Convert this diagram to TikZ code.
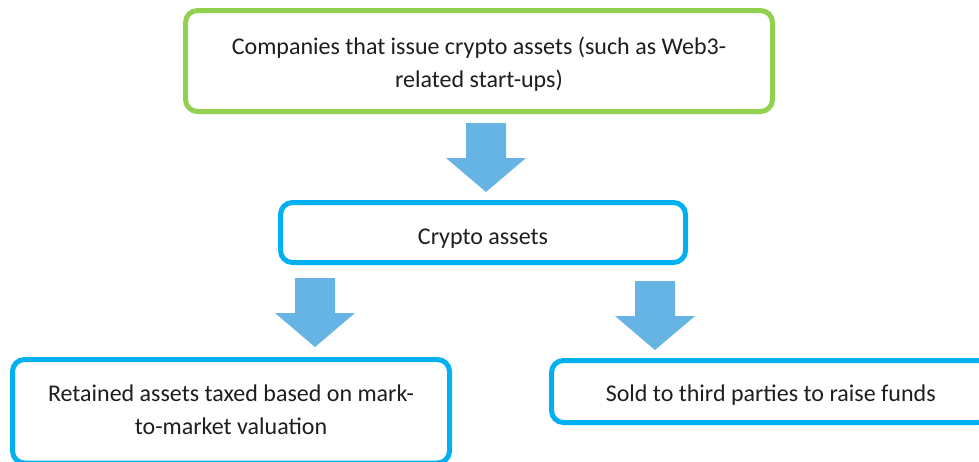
\documentclass[tikz,border=0pt]{standalone}
\usepackage{fontspec}
\setmainfont{Carlito}
\definecolor{framegreen}{RGB}{146,208,80}
\definecolor{frameblue}{RGB}{0,176,240}
\definecolor{arrowblue}{RGB}{101,180,228}
\definecolor{labelgray}{RGB}{30,30,30}
\begin{document}
\begin{tikzpicture}[x=0.5pt,y=-0.5pt,
  box/.style={draw=frameblue, line width=2.5pt, rounded corners=6pt, fill=white,
    inner sep=0pt},
  greenbox/.style={box, draw=framegreen},
  lbl/.style={align=center, text=labelgray, inner sep=0pt,
    font=\fontsize{12}{16.5}\selectfont},
  blockarrow/.pic={\fill[arrowblue] (-20,0) -- (20,0) -- (20,35) -- (40,35)
    -- (0,69) -- (-40,35) -- (-20,35) -- cycle;}]
\useasboundingbox (0,0) rectangle (979,461);
\clip (0,0) rectangle (979,461);

% boxes
\node[greenbox, minimum width=293.5pt, minimum height=50.5pt] (issuer) at (479,61) {};
\node[box, minimum width=202.5pt, minimum height=30pt] (crypto) at (483,232.5) {};
\node[box, minimum width=218.5pt, minimum height=51.75pt] (retained) at (231,411.25) {};
\node[box, minimum width=219.25pt, minimum height=31pt] (sold) at (770.75,391.5) {};

% box texts
\node[lbl] (issuertext) at ([yshift=-1.5pt]issuer.center)
  {Companies that issue crypto assets (such as Web3-\\related start-ups)};
\node[lbl] (cryptotext) at ([yshift=-3pt]crypto.center) {Crypto assets};
\node[lbl] (retainedtext) at ([yshift=1pt]retained.center)
  {Retained assets taxed based on mark-\\to-market valuation};
\node[lbl] (soldtext) at ([yshift=-2pt]sold.center) {Sold to third parties to raise funds};

% block arrows between the boxes
\coordinate (a1) at (486,123);
\coordinate (a2) at (315,278);
\coordinate (a3) at (655,281);
\pic at (a1) {blockarrow};
\pic at (a2) {blockarrow};
\pic at (a3) {blockarrow};
\end{tikzpicture}
\end{document}
